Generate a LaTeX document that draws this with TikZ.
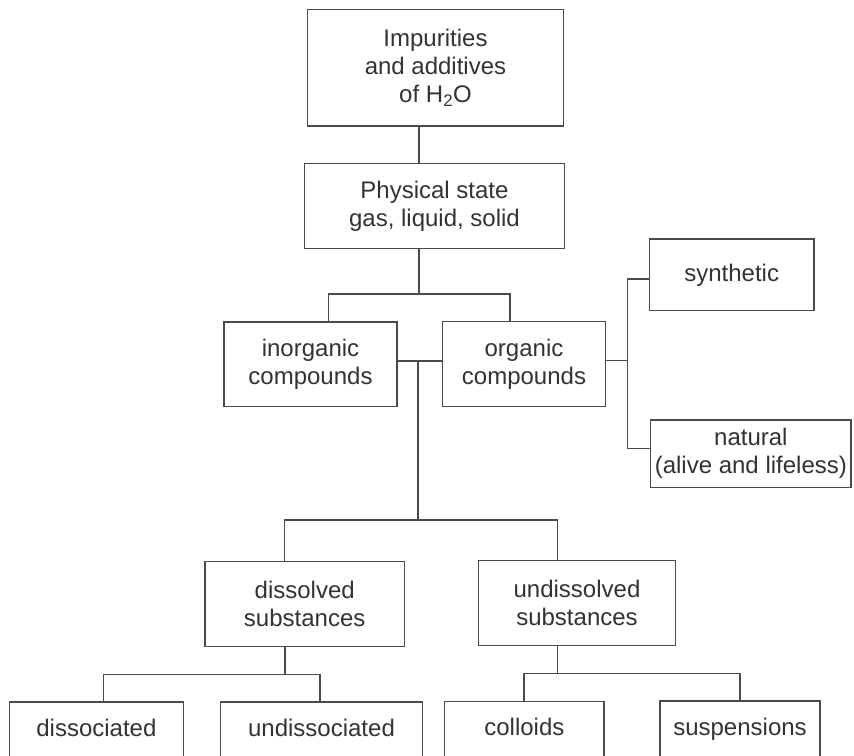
\documentclass[tikz,border=0pt]{standalone}
\usepackage{fontspec}
\setmainfont{Liberation Sans}
\definecolor{ink}{HTML}{333333}
\definecolor{wire}{HTML}{4A4A4A}
\begin{document}
\begin{tikzpicture}[x=1pt,y=-1pt,
  box/.style={draw=wire, line width=1.3pt, rectangle, inner sep=0pt, align=center,
    text=ink, font=\fontsize{24}{28}\selectfont},
  leafbox/.style={box, minimum height=56pt, text height=17pt, text depth=5pt},
  link/.style={draw=wire, line width=1.3pt}]
\useasboundingbox (0,0) rectangle (854,755);
\clip (0,0) rectangle (854,755);
\fill[white] (0,0) rectangle (854,755);

% boxes
\node[box, minimum width=255.6pt, minimum height=116.7pt] (top) at (435.5,67.7)
  {Impurities\\and additives\\of H\textsubscript{2}O};
\node[box, minimum width=260.4pt, minimum height=85pt] (phys) at (434.5,205.8)
  {Physical state\\gas, liquid, solid};
\node[box, minimum width=173pt, minimum height=84.7pt] (inorg) at (310.5,364.3)
  {inorganic\\compounds};
\node[box, minimum width=163.4pt, minimum height=85pt] (org) at (524,364.2)
  {organic\\compounds};
\node[box, minimum width=164.7pt, minimum height=71.7pt] (synth) at (731.7,274.9)
  {synthetic};
\node[box, minimum width=200.3pt, minimum height=67.3pt] (nat) at (750.85,453.7)
  {natural\\(alive and lifeless)};
\node[box, minimum width=199.3pt, minimum height=85pt] (diss) at (304.7,604.2)
  {dissolved\\substances};
\node[box, minimum width=197.4pt, minimum height=85pt] (undiss) at (577,603.2)
  {undissolved\\substances};
\node[leafbox, minimum width=174.2pt] (dsc) at (96.4,730)
  {dissociated};
\node[leafbox, minimum width=201.6pt] (udsc) at (321.5,730)
  {undissociated};
\node[leafbox, minimum width=159.3pt] (coll) at (524.35,729.5)
  {colloids};
\node[leafbox, minimum width=160pt] (susp) at (740,729)
  {suspensions};

% junction coordinates
\coordinate (j1) at (419,294);
\coordinate (a1) at (328.3,294);
\coordinate (a2) at (510,294);
\coordinate (b0) at (418,361);
\coordinate (b1) at (418,520);
\coordinate (c1) at (284.8,520);
\coordinate (c2) at (557.5,520);
\coordinate (r0) at (627.7,360.5);
\coordinate (r1) at (627.7,279);
\coordinate (r2) at (627.7,448.7);
\coordinate (d0) at (285,674.5);
\coordinate (d1) at (103.5,674.5);
\coordinate (d2) at (320,674.5);
\coordinate (e0) at (557.5,673.3);
\coordinate (e1) at (524,673.3);
\coordinate (e2) at (740,673.3);

% connectors
\draw[link] (top.south -| j1) -- (phys.north -| j1);
\draw[link] (phys.south -| j1) -- (j1);
\draw[link] (inorg.north -| a1) |- (a2) -- (org.north -| a2);
\draw[link] (inorg.east |- b0) -- (org.west |- b0);
\draw[link] (b0) -- (b1);
\draw[link] (diss.north -| c1) |- (c2) -- (undiss.north -| c2);
\draw[link] (org.east |- r0) -- (r0);
\draw[link] (synth.west |- r1) -| (r2) -- (nat.west |- r2);
\draw[link] (diss.south -| d0) -- (d0);
\draw[link] (dsc.north -| d1) |- (d2) -- (udsc.north -| d2);
\draw[link] (undiss.south -| e0) -- (e0);
\draw[link] (coll.north -| e1) |- (e2) -- (susp.north -| e2);
\end{tikzpicture}
\end{document}
